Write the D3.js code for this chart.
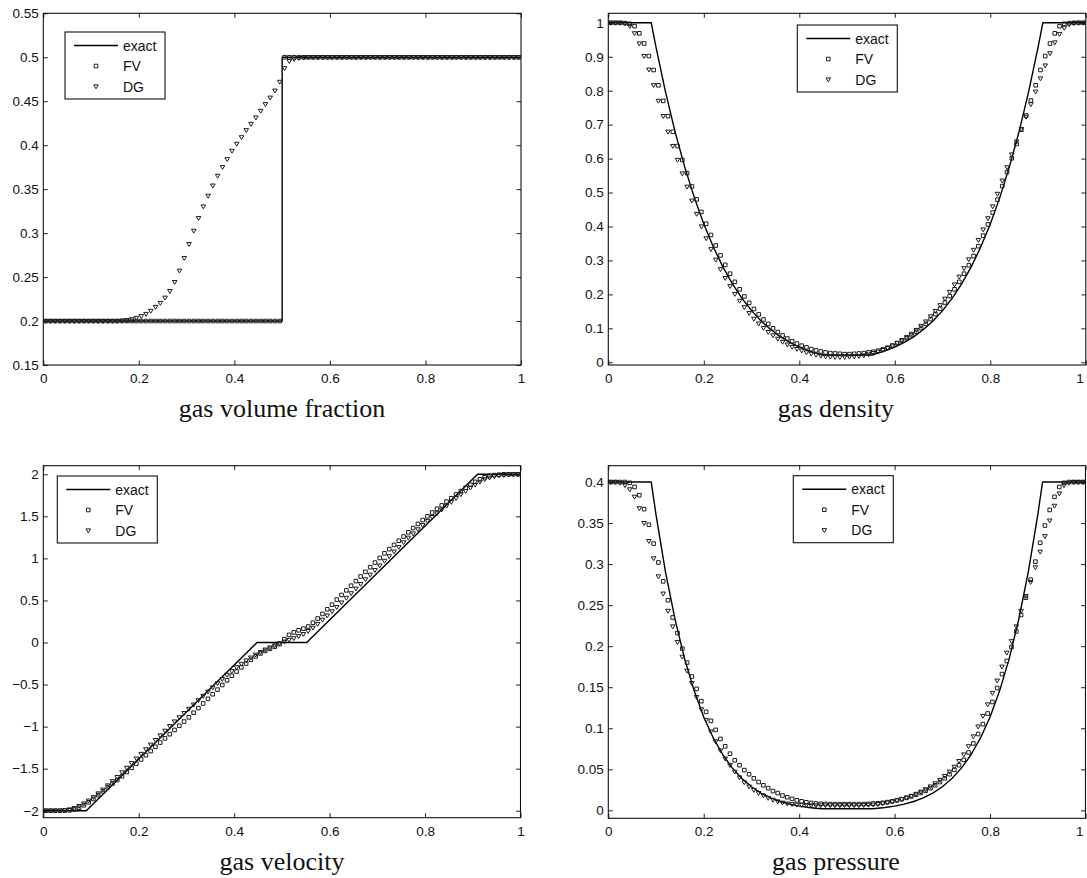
<!DOCTYPE html>
<html>
<head>
<meta charset="utf-8">
<script src="https://cdn.jsdelivr.net/npm/d3@7"></script>
<style>
    body { margin: 0; background: #fff; }
    svg text { font-family: "Liberation Sans", Arial, sans-serif; }
    .tick text { font-size: 13.5px; fill: #111; }
    .tick line { stroke: #222; }
    .legend text { font-size: 14px; fill: #111; }
    .panel-title { font-family: "Liberation Serif", "Times New Roman", serif; font-size: 26px; fill: #111; }
</style>
</head>
<body>
<div id="chart"></div>
<script>

// cell centres (100 cells on [0,1])
const xCells = [
    0.005,0.015,0.025,0.035,0.045,0.055,0.065,0.075,0.085,0.095,
    0.105,0.115,0.125,0.135,0.145,0.155,0.165,0.175,0.185,0.195,
    0.205,0.215,0.225,0.235,0.245,0.255,0.265,0.275,0.285,0.295,
    0.305,0.315,0.325,0.335,0.345,0.355,0.365,0.375,0.385,0.395,
    0.405,0.415,0.425,0.435,0.445,0.455,0.465,0.475,0.485,0.495,
    0.505,0.515,0.525,0.535,0.545,0.555,0.565,0.575,0.585,0.595,
    0.605,0.615,0.625,0.635,0.645,0.655,0.665,0.675,0.685,0.695,
    0.705,0.715,0.725,0.735,0.745,0.755,0.765,0.775,0.785,0.795,
    0.805,0.815,0.825,0.835,0.845,0.855,0.865,0.875,0.885,0.895,
    0.905,0.915,0.925,0.935,0.945,0.955,0.965,0.975,0.985,0.995
];

// tick values
const xTicks = [0, 0.2, 0.4, 0.6, 0.8, 1];
const alphaTicks = [0.15, 0.2, 0.25, 0.3, 0.35, 0.4, 0.45, 0.5, 0.55];
const rhoTicks = [0, 0.1, 0.2, 0.3, 0.4, 0.5, 0.6, 0.7, 0.8, 0.9, 1];
const uTicks = [-2, -1.5, -1, -0.5, 0, 0.5, 1, 1.5, 2];
const pTicks = [0, 0.05, 0.1, 0.15, 0.2, 0.25, 0.3, 0.35, 0.4];

const legendLabels = ["exact", "FV", "DG"];

// gas volume fraction
const exactAlphaX = [0, 0.5, 0.5, 1];
const exactAlpha = [0.2, 0.2, 0.5, 0.5];
const alphaFV = [
    0.2,0.2,0.2,0.2,0.2,0.2,0.2,0.2,0.2,0.2,
    0.2,0.2,0.2,0.2,0.2,0.2,0.2,0.2,0.2,0.2,
    0.2,0.2,0.2,0.2,0.2,0.2,0.2,0.2,0.2,0.2,
    0.2,0.2,0.2,0.2,0.2,0.2,0.2,0.2,0.2,0.2,
    0.2,0.2,0.2,0.2,0.2,0.2,0.2,0.2,0.2,0.2,
    0.5,0.5,0.5,0.5,0.5,0.5,0.5,0.5,0.5,0.5,
    0.5,0.5,0.5,0.5,0.5,0.5,0.5,0.5,0.5,0.5,
    0.5,0.5,0.5,0.5,0.5,0.5,0.5,0.5,0.5,0.5,
    0.5,0.5,0.5,0.5,0.5,0.5,0.5,0.5,0.5,0.5,
    0.5,0.5,0.5,0.5,0.5,0.5,0.5,0.5,0.5,0.5
];
const alphaDG = [
    0.2,0.2,0.2,0.2,0.2,0.2,0.2,0.2,0.2,0.2,
    0.2,0.2,0.2,0.2,0.2,0.2,0.2005,0.201,0.202,0.2035,
    0.2055,0.208,0.2115,0.216,0.2205,0.2265,0.234,0.2443,0.2572,0.2716,
    0.2875,0.3026,0.317,0.3302,0.3424,0.354,0.3651,0.375,0.384,0.3935,
    0.4015,0.409,0.417,0.4242,0.4314,0.439,0.4466,0.454,0.462,0.472,
    0.4875,0.4955,0.498,0.499,0.4995,0.5,0.5,0.5,0.5,0.5,
    0.5,0.5,0.5,0.5,0.5,0.5,0.5,0.5,0.5,0.5,
    0.5,0.5,0.5,0.5,0.5,0.5,0.5,0.5,0.5,0.5,
    0.5,0.5,0.5,0.5,0.5,0.5,0.5,0.5,0.5,0.5,
    0.5,0.5,0.5,0.5,0.5,0.5,0.5,0.5,0.5,0.5
];

// exact rarefaction profiles (density, pressure), read at these x
const exactRareX = [
    0, 0.09, 0.10, 0.12, 0.14, 0.16, 0.18, 0.20, 0.22, 0.24, 0.26, 0.28, 0.30,
    0.32, 0.34, 0.36, 0.38, 0.40, 0.42, 0.44, 0.448,
    0.552, 0.56, 0.58, 0.60, 0.62, 0.64, 0.66, 0.68, 0.70, 0.72, 0.74, 0.76,
    0.78, 0.80, 0.82, 0.84, 0.86, 0.88, 0.90, 0.91, 1
];
const exactRho = [
    1, 1, 0.9275, 0.795, 0.678, 0.5756, 0.4858, 0.4074, 0.3396, 0.2811, 0.2311, 0.1884, 0.1521,
    0.1217, 0.0965, 0.0756, 0.0584, 0.0445, 0.0334, 0.0247, 0.0216,
    0.0216, 0.0247, 0.0334, 0.0445, 0.0584, 0.0756, 0.0965, 0.1217, 0.1521, 0.1884, 0.2311, 0.2811,
    0.3396, 0.4074, 0.4858, 0.5756, 0.678, 0.795, 0.9275, 1, 1
];
const exactP = [
    0.4, 0.4, 0.360, 0.290, 0.2324, 0.1846, 0.1456, 0.1138, 0.0882, 0.0677, 0.0514, 0.0387, 0.0287,
    0.0210, 0.0151, 0.0108, 0.0075, 0.0051, 0.0034, 0.0023, 0.0019,
    0.0019, 0.0023, 0.0034, 0.0051, 0.0075, 0.0108, 0.0151, 0.0210, 0.0287, 0.0387, 0.0514, 0.0677,
    0.0882, 0.1138, 0.1456, 0.1846, 0.2324, 0.290, 0.360, 0.4, 0.4
];

// gas density
const rhoFV = [
    1,1,1,0.999,0.997,0.990,0.969,0.939,0.902,0.861,
    0.816,0.770,0.725,0.679,0.637,0.596,0.557,0.518,0.480,0.443,
    0.408,0.375,0.344,0.315,0.287,0.261,0.237,0.215,0.194,0.175,
    0.157,0.141,0.126,0.113,0.100,0.089,0.079,0.070,0.062,0.055,
    0.049,0.044,0.039,0.035,0.032,0.029,0.027,0.026,0.025,0.024,
    0.024,0.025,0.026,0.027,0.029,0.031,0.034,0.038,0.043,0.049,
    0.056,0.063,0.071,0.080,0.090,0.101,0.113,0.127,0.142,0.158,
    0.176,0.195,0.215,0.237,0.261,0.286,0.313,0.342,0.373,0.406,
    0.441,0.479,0.519,0.560,0.601,0.643,0.685,0.727,0.771,0.816,
    0.861,0.902,0.939,0.969,0.990,0.997,0.999,1,1,1
];
const rhoDG = [
    1,1,1,0.998,0.990,0.969,0.939,0.902,0.862,0.816,
    0.770,0.725,0.679,0.637,0.596,0.556,0.517,0.476,0.437,0.400,
    0.365,0.333,0.302,0.274,0.248,0.224,0.201,0.181,0.162,0.145,
    0.128,0.114,0.101,0.089,0.079,0.069,0.060,0.052,0.045,0.039,
    0.034,0.029,0.025,0.022,0.019,0.017,0.016,0.015,0.015,0.015,
    0.016,0.017,0.018,0.020,0.023,0.027,0.031,0.036,0.042,0.049,
    0.057,0.065,0.074,0.084,0.095,0.107,0.120,0.135,0.151,0.168,
    0.187,0.207,0.229,0.252,0.277,0.303,0.331,0.360,0.391,0.424,
    0.459,0.496,0.535,0.574,0.612,0.650,0.687,0.723,0.760,0.797,
    0.836,0.874,0.910,0.942,0.967,0.985,0.995,0.999,1,1
];

// gas velocity
const exactUX = [0, 0.09, 0.448, 0.552, 0.91, 1];
const exactU = [-2, -2, 0, 0, 2, 2];
const uFV = [
    -2,-2,-2,-2,-1.998,-1.995,-1.985,-1.965,-1.935,-1.90,
    -1.86,-1.815,-1.77,-1.72,-1.675,-1.635,-1.59,-1.54,-1.49,-1.44,
    -1.39,-1.34,-1.29,-1.24,-1.19,-1.14,-1.09,-1.04,-0.99,-0.94,
    -0.89,-0.835,-0.78,-0.725,-0.67,-0.615,-0.56,-0.505,-0.45,-0.395,
    -0.345,-0.295,-0.25,-0.205,-0.165,-0.13,-0.10,-0.075,-0.05,-0.02,
    0.04,0.09,0.12,0.145,0.165,0.19,0.235,0.285,0.34,0.395,
    0.45,0.51,0.565,0.62,0.675,0.73,0.785,0.84,0.895,0.95,
    1.005,1.06,1.11,1.16,1.21,1.26,1.31,1.36,1.41,1.455,
    1.50,1.545,1.59,1.63,1.675,1.715,1.76,1.80,1.84,1.875,
    1.91,1.94,1.965,1.98,1.99,1.995,2,2,2,2
];
const uDG = [
    -2,-2,-2,-2,-1.995,-1.985,-1.97,-1.945,-1.915,-1.88,
    -1.84,-1.795,-1.75,-1.70,-1.65,-1.60,-1.545,-1.49,-1.435,-1.38,
    -1.325,-1.27,-1.215,-1.16,-1.105,-1.05,-0.995,-0.94,-0.89,-0.84,
    -0.79,-0.74,-0.688,-0.636,-0.585,-0.535,-0.485,-0.435,-0.385,-0.34,
    -0.295,-0.255,-0.215,-0.18,-0.145,-0.115,-0.085,-0.06,-0.035,-0.01,
    0.01,0.03,0.05,0.075,0.10,0.135,0.175,0.22,0.27,0.32,
    0.37,0.42,0.475,0.53,0.585,0.64,0.695,0.75,0.805,0.86,
    0.915,0.97,1.025,1.08,1.135,1.19,1.245,1.295,1.345,1.395,
    1.445,1.49,1.535,1.58,1.625,1.67,1.715,1.76,1.80,1.84,
    1.875,1.91,1.94,1.96,1.975,1.985,1.99,1.995,2,2
];

// gas pressure
const pFV = [
    0.4,0.4,0.4,0.4,0.399,0.394,0.384,0.367,0.348,0.325,
    0.302,0.279,0.256,0.235,0.216,0.197,0.180,0.163,0.148,0.133,
    0.120,0.109,0.098,0.087,0.078,0.069,0.061,0.055,0.049,0.044,
    0.039,0.0345,0.0305,0.027,0.0235,0.021,0.018,0.016,0.014,0.0122,
    0.011,0.0098,0.009,0.0084,0.008,0.0078,0.0076,0.0075,0.0075,0.0075,
    0.0075,0.0075,0.0076,0.0077,0.0079,0.0082,0.0086,0.0092,0.010,0.011,
    0.0122,0.0136,0.0152,0.017,0.019,0.0213,0.024,0.027,0.0305,0.0345,
    0.039,0.044,0.0495,0.055,0.0615,0.0705,0.0815,0.093,0.105,0.118,
    0.132,0.149,0.166,0.182,0.199,0.218,0.238,0.259,0.281,0.303,
    0.326,0.347,0.366,0.382,0.394,0.399,0.4,0.4,0.4,0.4
];
const pDG = [
    0.4,0.4,0.399,0.396,0.391,0.382,0.368,0.350,0.328,0.307,
    0.285,0.264,0.243,0.224,0.205,0.187,0.170,0.155,0.138,0.123,
    0.110,0.096,0.084,0.073,0.063,0.055,0.047,0.040,0.034,0.029,
    0.0247,0.021,0.018,0.015,0.0127,0.0108,0.0093,0.0082,0.0074,0.0068,
    0.0064,0.0062,0.006,0.006,0.006,0.006,0.006,0.006,0.006,0.006,
    0.006,0.006,0.0061,0.0063,0.0066,0.007,0.0076,0.0084,0.0094,0.0106,
    0.012,0.0136,0.0155,0.0176,0.020,0.0226,0.0256,0.029,0.0328,0.037,
    0.0418,0.047,0.053,0.060,0.068,0.078,0.090,0.102,0.115,0.129,
    0.143,0.158,0.175,0.192,0.206,0.224,0.243,0.261,0.278,0.296,
    0.315,0.334,0.353,0.371,0.386,0.396,0.399,0.4,0.4,0.4
];


/*
 *  PanelViz - one MATLAB-style subplot (box axes, inside ticks, legend, xlabel)
 */
class PanelViz {

    constructor(svg, cfg) {
        this.svg = svg;
        this.cfg = cfg;
        this.initVis();
    }

    initVis() {
        let vis = this;
        let c = vis.cfg;

        vis.g = vis.svg.append("g")
            .attr("transform", "translate(" + c.left + "," + c.top + ")");

        vis.x = d3.scaleLinear().domain([0, 1]).range([0, c.width]);
        vis.y = d3.scaleLinear().domain(c.yDomain).range([c.height, 0]);

        let fmt = d => String(+d.toFixed(3)).replace("-", "\u2212");
        let tick = 4.5;

        // axes, ticks pointing inwards on all four sides
        vis.xAxisG = vis.g.append("g")
            .attr("transform", "translate(0," + c.height + ")")
            .call(d3.axisBottom(vis.x).tickValues(xTicks).tickFormat(fmt)
                .tickSizeInner(-tick).tickSizeOuter(0).tickPadding(8.5));
        vis.g.append("g")
            .call(d3.axisTop(vis.x).tickValues(xTicks).tickFormat("")
                .tickSizeInner(-tick).tickSizeOuter(0));
        vis.g.append("g")
            .call(d3.axisLeft(vis.y).tickValues(c.yTicks).tickFormat(fmt)
                .tickSizeInner(-tick).tickSizeOuter(0).tickPadding(4.5));
        vis.g.append("g")
            .attr("transform", "translate(" + c.width + ",0)")
            .call(d3.axisRight(vis.y).tickValues(c.yTicks).tickFormat("")
                .tickSizeInner(-tick).tickSizeOuter(0));

        vis.g.selectAll(".domain").remove();
        vis.g.selectAll(".tick text").attr("font-family", null).attr("font-size", null);

        // keep the last x label inside the page on the right-hand panels
        if (c.lastLabelEnd) {
            vis.xAxisG.selectAll(".tick text")
                .filter(d => d === 1)
                .attr("text-anchor", "end")
                .attr("dx", -2.5);
        }

        vis.g.append("rect")
            .attr("width", c.width)
            .attr("height", c.height)
            .attr("fill", "none")
            .attr("stroke", "#111")
            .attr("stroke-width", 1.1);

        vis.squarePath = "M-1.8,-1.8h3.6v3.6h-3.6Z";
        vis.trianglePath = "M-2.3,-1.6L2.3,-1.6L0,2.3Z";

        vis.updateVis();
    }

    updateVis() {
        let vis = this;
        let c = vis.cfg;

        let line = d3.line()
            .x(d => vis.x(d[0]))
            .y(d => vis.y(d[1]));

        vis.g.append("path")
            .datum(d3.zip(c.exactX, c.exact))
            .attr("fill", "none")
            .attr("stroke", "#000")
            .attr("stroke-width", 1.4)
            .attr("stroke-linejoin", "round")
            .attr("d", line);

        vis.g.selectAll(".fv")
            .data(d3.zip(xCells, c.fv))
            .enter()
            .append("path")
            .attr("class", "fv")
            .attr("d", vis.squarePath)
            .attr("fill", "none")
            .attr("stroke", "#1c1c1c")
            .attr("stroke-width", 1)
            .attr("transform", d => "translate(" + vis.x(d[0]) + "," + vis.y(d[1]) + ")");

        vis.g.selectAll(".dg")
            .data(d3.zip(xCells, c.dg))
            .enter()
            .append("path")
            .attr("class", "dg")
            .attr("d", vis.trianglePath)
            .attr("fill", "none")
            .attr("stroke", "#1c1c1c")
            .attr("stroke-width", 1)
            .attr("transform", d => "translate(" + vis.x(d[0]) + "," + vis.y(d[1]) + ")");

        // legend
        let leg = vis.g.append("g")
            .attr("class", "legend")
            .attr("transform", "translate(" + c.legend[0] + "," + c.legend[1] + ")");

        leg.append("rect")
            .attr("width", 100)
            .attr("height", 67)
            .attr("fill", "#fff")
            .attr("stroke", "#111")
            .attr("stroke-width", 1.1);

        let rows = [13.5, 34, 54.5];
        leg.append("line")
            .attr("x1", 9).attr("x2", 53)
            .attr("y1", rows[0]).attr("y2", rows[0])
            .attr("stroke", "#000").attr("stroke-width", 1.4);
        leg.append("path")
            .attr("d", vis.squarePath)
            .attr("fill", "none").attr("stroke", "#1c1c1c").attr("stroke-width", 1)
            .attr("transform", "translate(31," + rows[1] + ")");
        leg.append("path")
            .attr("d", vis.trianglePath)
            .attr("fill", "none").attr("stroke", "#1c1c1c").attr("stroke-width", 1)
            .attr("transform", "translate(31," + rows[2] + ")");

        leg.selectAll("text")
            .data(legendLabels)
            .enter()
            .append("text")
            .attr("x", 58)
            .attr("y", (d, i) => rows[i] + 5)
            .text(d => d);

        // xlabel
        vis.svg.append("text")
            .attr("class", "panel-title")
            .attr("x", c.titleX)
            .attr("y", c.top + c.height + 52)
            .attr("text-anchor", "middle")
            .text(c.title);
    }
}


let svg = d3.select("#chart").append("svg")
    .attr("width", 1087)
    .attr("height", 878);

svg.append("rect").attr("width", 1087).attr("height", 878).attr("fill", "#fff");

new PanelViz(svg, {
    left: 43.3, top: 13.3, width: 477.7, height: 351.7,
    yDomain: [0.15, 0.55], yTicks: alphaTicks,
    exactX: exactAlphaX, exact: exactAlpha, fv: alphaFV, dg: alphaDG,
    legend: [21.7, 18.7], title: "gas volume fraction", titleX: 282
});

new PanelViz(svg, {
    left: 608.3, top: 13.3, width: 477.5, height: 351.7,
    yDomain: [-0.008, 1.028], yTicks: rhoTicks,
    exactX: exactRareX, exact: exactRho, fv: rhoFV, dg: rhoDG,
    legend: [189, 11.7], title: "gas density", titleX: 836, lastLabelEnd: true
});

new PanelViz(svg, {
    left: 43.3, top: 465.7, width: 477.2, height: 352,
    yDomain: [-2.083, 2.102], yTicks: uTicks,
    exactX: exactUX, exact: exactU, fv: uFV, dg: uDG,
    legend: [14, 10.3], title: "gas velocity", titleX: 282
});

new PanelViz(svg, {
    left: 608.3, top: 465.7, width: 477.2, height: 352.6,
    yDomain: [-0.0097, 0.4199], yTicks: pTicks,
    exactX: exactRareX, exact: exactP, fv: pFV, dg: pDG,
    legend: [185, 10], title: "gas pressure", titleX: 836, lastLabelEnd: true
});

</script>
</body>
</html>
